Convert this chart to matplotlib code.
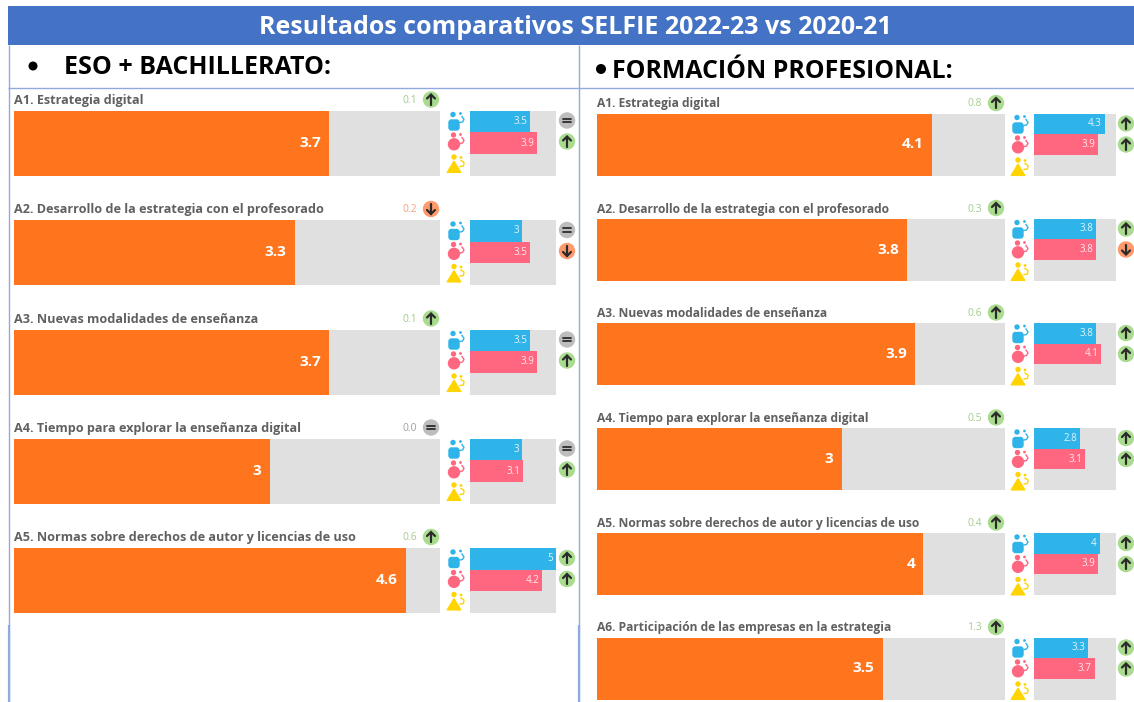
import matplotlib
matplotlib.use("Agg")
import matplotlib.pyplot as plt
from matplotlib.patches import Circle, Polygon, FancyBboxPatch, Rectangle

W, H = 1134, 702
TITLE = "Resultados comparativos SELFIE 2022-23 vs 2020-21"
LEFT_HEADING = "ESO + BACHILLERATO:"
RIGHT_HEADING = "FORMACIÓN PROFESIONAL:"

left_categories = ["A1. Estrategia digital",
                   "A2. Desarrollo de la estrategia con el profesorado",
                   "A3. Nuevas modalidades de enseñanza",
                   "A4. Tiempo para explorar la enseñanza digital",
                   "A5. Normas sobre derechos de autor y licencias de uso"]
left_overall = [3.7, 3.3, 3.7, 3, 4.6]
left_delta = ["0.1", "0.2", "0.1", "0.0", "0.6"]
left_delta_dir = ["up", "down", "up", "eq", "up"]
left_teachers = [3.5, 3, 3.5, 3, 5]
left_students = [3.9, 3.5, 3.9, 3.1, 4.2]
left_teacher_dir = ["eq", "eq", "eq", "eq", "up"]
left_student_dir = ["up", "down", "up", "up", "up"]

right_categories = ["A1. Estrategia digital",
                    "A2. Desarrollo de la estrategia con el profesorado",
                    "A3. Nuevas modalidades de enseñanza",
                    "A4. Tiempo para explorar la enseñanza digital",
                    "A5. Normas sobre derechos de autor y licencias de uso",
                    "A6. Participación de las empresas en la estrategia"]
right_overall = [4.1, 3.8, 3.9, 3, 4, 3.5]
right_delta = ["0.8", "0.3", "0.6", "0.5", "0.4", "1.3"]
right_delta_dir = ["up", "up", "up", "up", "up", "up"]
right_teachers = [4.3, 3.8, 3.8, 2.8, 4, 3.3]
right_students = [3.9, 3.8, 4.1, 3.1, 3.9, 3.7]
right_teacher_dir = ["up", "up", "up", "up", "up", "up"]
right_student_dir = ["up", "down", "up", "up", "up", "up"]

ORANGE, TRACK = "#FF751D", "#E0E0E0"
BLUE, PINK, YELLOW = "#2EB4E8", "#FF6680", "#FFD400"
LINE = "#8FAADC"
DIR_FILL = {"up": "#A9DC8E", "down": "#FF9A6C", "eq": "#BDBDBD"}
DIR_TEXT = {"up": "#A5CC8F", "down": "#F5A27C", "eq": "#A0A0A0"}
DARK = "#2B2B2B"
LABEL_FONT = "Open Sans"

fig = plt.figure(figsize=(W / 100, H / 100), dpi=100, facecolor="white")
bg = fig.add_axes([0, 0, 1, 1], zorder=5)
bg.set_xlim(0, W)
bg.set_ylim(H, 0)
bg.axis("off")
bg.patch.set_alpha(0)


def px_axes(x0, y0, x1, y1, xmax=5):
    ax = fig.add_axes([x0 / W, 1 - y1 / H, (x1 - x0) / W, (y1 - y0) / H], zorder=2)
    ax.set_xlim(0, xmax)
    ax.set_ylim(0, 1)
    ax.axis("off")
    return ax


def badge(x, y, kind, r=8.2):
    bg.add_patch(Circle((x, y), r, fc=DIR_FILL[kind], ec="none"))
    if kind == "eq":
        for dy in (-1.6, 1.6):
            bg.plot([x - 3.6, x + 3.6], [y + dy, y + dy], color=DARK, lw=1.3, solid_capstyle="round")
    else:
        s = -1 if kind == "up" else 1
        bg.plot([x, x], [y - s * 5, y + s * 4.5], color=DARK, lw=1.6, solid_capstyle="round")
        bg.plot([x - 4, x, x + 4], [y + s * 1, y + s * 5, y + s * 1], color=DARK, lw=1.6,
                solid_capstyle="round", solid_joinstyle="miter")


def icons(x, y):
    # teacher: rounded square with head
    bg.add_patch(FancyBboxPatch((x - 5, y - 0.5), 10, 10, boxstyle="round,pad=0,rounding_size=2.5",
                                fc=BLUE, ec=BLUE, lw=1.0))
    bg.add_patch(Circle((x - 1, y - 6), 2.7, fc=BLUE, ec="none"))
    bg.add_patch(Circle((x + 6.5, y - 7), 1.4, fc=BLUE, ec="none"))
    bg.plot([x + 8, x + 10, x + 8.5, x + 6], [y - 4, y - 1, y + 1.5, y + 2], color=BLUE, lw=1)
    # student: circle with head
    y2 = y + 21
    bg.add_patch(Circle((x, y2 + 2.8), 6.2, fc=PINK, ec="none"))
    bg.add_patch(Circle((x - 0.5, y2 - 6.5), 2.7, fc=PINK, ec="none"))
    bg.add_patch(Circle((x + 6.5, y2 - 7), 1.4, fc=PINK, ec="none"))
    bg.plot([x + 8, x + 10, x + 8.5, x + 6], [y2 - 4, y2 - 1, y2 + 1.5, y2 + 2], color=PINK, lw=1)
    # leader: triangle with head
    y3 = y + 42
    bg.add_patch(Polygon([[x - 7, y3 + 10], [x + 7, y3 + 10], [x, y3 - 1.5]], fc=YELLOW, ec=YELLOW, lw=0.8))
    bg.add_patch(Circle((x, y3 - 5.5), 2.7, fc=YELLOW, ec="none"))
    bg.add_patch(Circle((x + 7, y3 - 5), 1.4, fc=YELLOW, ec="none"))
    bg.plot([x + 7, x + 10, x + 9.5, x + 6], [y3 - 2, y3, y3 + 3.5, y3 + 4], color=YELLOW, lw=1)


def panel(cats, overall, delta, delta_dir, teach, stud, tdir, sdir,
          x0, x1, sx0, sx1, tops, height, icon_x, badge_x, label_dy, label_size):
    for i, cat in enumerate(cats):
        top, bot = tops[i], tops[i] + height
        ax = px_axes(x0, top, x1, bot)
        ax.barh(0.5, 5, height=1, color=TRACK, linewidth=0)
        ax.barh(0.5, overall[i], height=1, color=ORANGE, linewidth=0)
        ax.text(overall[i] - 0.1, 0.5, f"{overall[i]:g}", color="white", ha="right", va="center",
                fontsize=11, fontweight="bold", family=LABEL_FONT)
        sax = px_axes(sx0, top, sx1, bot)
        sax.barh(0.5, 5, height=1, color=TRACK, linewidth=0)
        sax.barh(5 / 6, teach[i], height=1 / 3, color=BLUE, linewidth=0)
        sax.barh(0.5, stud[i], height=1 / 3, color=PINK, linewidth=0)
        sax.text(teach[i] - 0.17, 5 / 6, f"{teach[i]:g}", color="#FFFFFFDD", ha="right", va="center",
                 fontsize=7, family=LABEL_FONT)
        sax.text(stud[i] - 0.17, 0.5, f"{stud[i]:g}", color="#FFFFFFDD", ha="right", va="center",
                 fontsize=7, family=LABEL_FONT)
        bg.text(x0, top - 10.5 + label_dy, cat, color="#606060", fontsize=label_size, fontweight="bold",
                ha="left", va="center", family=LABEL_FONT)
        bg.text(x1 - 23, top - 10.5 + label_dy, delta[i], color=DIR_TEXT[delta_dir[i]], fontsize=7.5,
                ha="right", va="center", family=LABEL_FONT)
        badge(x1 - 9, top - 11.5 + label_dy, delta_dir[i])
        badge(badge_x, top + 10, tdir[i])
        badge(badge_x, top + 31, sdir[i])
        icons(icon_x, top + 10)


# header and frame
bg.add_patch(Rectangle((8, 6), W - 8, 39, fc="#4472C4", ec="none"))
bg.text(575, 27.5, TITLE, color="white", fontsize=18, fontweight="bold", ha="center", va="center",
        family="Open Sans")
for xs, ys, lw in [((8.5, 8.5), (45, 702), 1.0), ((578.5, 578.5), (45, 702), 1.0),
                   ((8, 578), (87.5, 87.5), 1.0), ((578, W), (87.5, 87.5), 1.0),
                   ((8.5, 8.5), (625, 702), 1.6), ((578.5, 578.5), (625, 702), 1.6)]:
    bg.plot(xs, ys, color=LINE, lw=lw, solid_capstyle="butt")
bg.add_patch(Circle((33, 66), 4.5, fc="black", ec="none"))
bg.add_patch(Circle((601, 69), 5, fc="black", ec="none"))
bg.text(64, 67, LEFT_HEADING, color="black", fontsize=18, fontweight="bold", ha="left", va="center",
        family="Open Sans")
bg.text(612, 72, RIGHT_HEADING, color="black", fontsize=17.9, fontweight="bold", ha="left", va="center",
        family="Open Sans")

left_tops = [110.5, 220, 329.5, 438.5, 548]
right_tops = [113.5, 218.5, 323, 428, 533, 637.5]

panel(left_categories, left_overall, left_delta, left_delta_dir, left_teachers, left_students,
      left_teacher_dir, left_student_dir, 14, 440, 470, 556, left_tops, 65, 454, 567, 0.5, 9.08)
panel(right_categories, right_overall, right_delta, right_delta_dir, right_teachers, right_students,
      right_teacher_dir, right_student_dir, 597, 1005, 1034, 1116, right_tops, 62, 1018, 1126, 1, 8.68)

fig.savefig("out.png", dpi=100)
